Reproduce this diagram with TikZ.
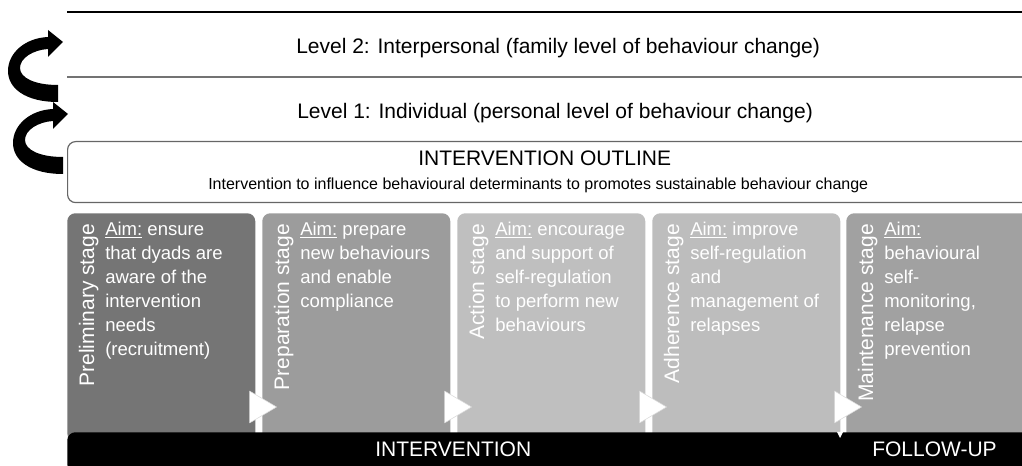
\documentclass[tikz,border=0pt]{standalone}
\usepackage{fontspec}
\setmainfont{Liberation Sans}
\usetikzlibrary{calc,positioning}

\begin{document}
\begin{tikzpicture}[x=0.75pt,y=-0.75pt]

  % Parameters
  \def\wstage{141pt}
  \def\hstage{171pt}
  \def\stagetop{213}

  % Styles
  \tikzstyle{leveltext}=[anchor=base west,inner sep=0pt,font=\fontsize{15.75}{18}\selectfont]
  \tikzstyle{smalltext}=[anchor=base west,inner sep=0pt,font=\fontsize{12}{14}\selectfont]
  \tikzstyle{levelline}=[line width=0.9pt]
  \tikzstyle{outlinebox}=[draw=black!60,line width=0.9pt,fill=white,rounded corners=6pt,anchor=north west,inner sep=0pt]
  \tikzstyle{stagebox}=[anchor=north west,rounded corners=6pt,minimum height=\hstage,inner sep=0pt]
  \tikzstyle{stagelabel}=[rotate=90,anchor=base east,inner sep=0pt,text=white,font=\fontsize{15.75}{18}\selectfont]
  \tikzstyle{aim}=[anchor=north west,align=left,inner sep=0pt,text=white,font=\fontsize{13.9}{18}\selectfont]
  \tikzstyle{nexttri}=[fill=white,draw=black!15,line width=0.4pt,line join=round]
  \tikzstyle{barbox}=[fill=black,rounded corners=6pt,anchor=north west,inner sep=0pt]
  \tikzstyle{bartext}=[leveltext,text=white]
  \tikzstyle{twist}=[fill=black]

  % \stage{<id>}{<left>}{<fill>}{<label>}{<aim>}[<width>]
  \DeclareDocumentCommand \stage { m m m m m O{\wstage} }{%
    \node[stagebox,fill=#3,minimum width=#6] (stage-#1) at (#2,\stagetop) {};
    \node[stagelabel] (label-#1) at (#2+27,\stagetop+11) {#4};
    \node[aim] (aim-#1) at (#2+38,\stagetop+9) {#5};
  }

  % \stagearrow{<id>}
  \DeclareDocumentCommand \stagearrow { m }{%
    \filldraw[nexttri] ($(stage-#1.north east)+(-6,178)$) -- ++(27,16) -- ++(-27,16) -- cycle;
  }

  % \twist{<x-shift>}{<y-shift>}
  \DeclareDocumentCommand \twist { m m }{%
    \fill[twist,shift={(#1,#2)}] (63,157) -- (63,174)
      .. controls (30,174) and (13,160) .. (13,143)
      .. controls (13,125) and (30,110) .. (53,109)
      -- (53,102) -- (68,114) -- (53,129) -- (53,121)
      .. controls (38,122) and (25,130) .. (25,140)
      .. controls (25,150) and (40,157) .. (63,157) -- cycle;
  }

  % ===========================================================================

  \useasboundingbox (0,0) rectangle (1022,466);
  \clip (0,0) rectangle (1022,466);

  % Levels
  \draw[levelline] (67,12) -- (1022,12);
  \draw[levelline,black!55] (67,77) -- (1022,77);
  \node[leveltext] (level-2) at (296,54) {Level 2: Interpersonal (family level of behaviour change)};
  \node[leveltext] (level-1) at (297,119) {Level 1: Individual (personal level of behaviour change)};

  % Outline
  \node[outlinebox,minimum width=740pt,minimum height=45.75pt] (outline) at (67,141) {};
  \node[leveltext] (outline-title) at (418,166) {INTERVENTION OUTLINE};
  \node[smalltext] (outline-text) at (208,190) {Intervention to influence behavioural determinants to promotes sustainable behaviour change};

  % Curly arrows
  \twist{0}{0}
  \twist{-5}{-72}

  % Stages
  \stage{1}{67}{black!54}{Preliminary stage}{\underline{Aim:} ensure\\that dyads are\\aware of the\\intervention\\needs\\(recruitment)}
  \stage{2}{262}{black!39}{Preparation stage}{\underline{Aim:} prepare\\new behaviours\\and enable\\compliance}
  \stage{3}{457}{black!25}{Action stage}{\underline{Aim:} encourage\\and support of\\self-regulation\\to perform new\\behaviours}
  \stage{4}{652}{black!26}{Adherence stage}{\underline{Aim:} improve\\self-regulation\\and\\management of\\relapses}
  \stage{5}{846}{black!37}{Maintenance stage}{\underline{Aim:}\\behavioural\\self-\\monitoring,\\relapse\\prevention}[160pt]

  \foreach \i in {1,2,3,4} {\stagearrow{\i}}

  % Time line
  \node[barbox,minimum width=740pt,minimum height=30pt] (bar) at (67,432) {};
  \fill[white] (837,432) -- (843,432) -- (840,438) -- cycle;
  \node[bartext] (intervention) at (375,457) {INTERVENTION};
  \node[bartext] (follow-up) at (872,457) {FOLLOW-UP};

\end{tikzpicture}
\end{document}
